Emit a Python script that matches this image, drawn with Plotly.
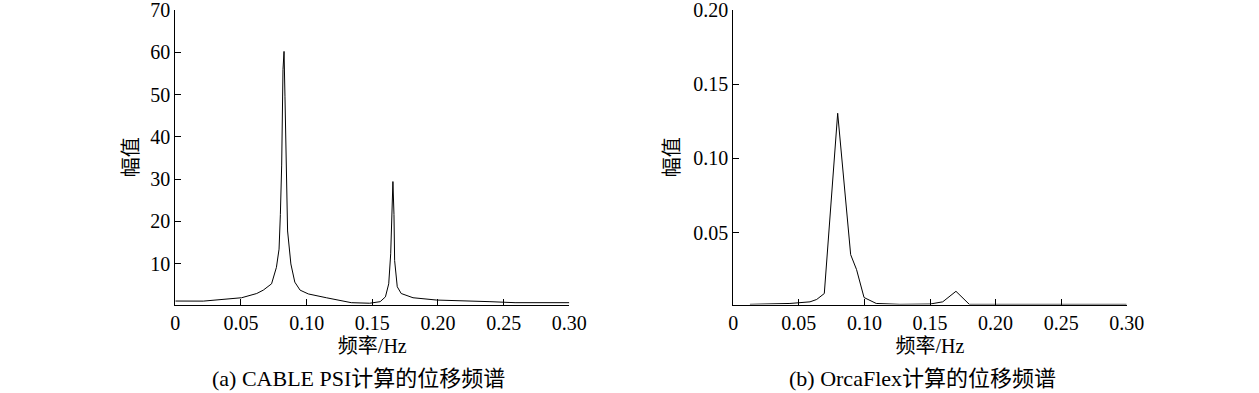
import plotly.graph_objects as go

# (a) CABLE PSI displacement spectrum
freq_a = [0.0, 0.0213, 0.0505, 0.062, 0.067, 0.0733, 0.077, 0.079, 0.080, 0.081, 0.082,
          0.0828, 0.0835, 0.0843, 0.0855, 0.088, 0.091, 0.095, 0.1013, 0.115, 0.134, 0.148,
          0.156, 0.160, 0.1625, 0.164, 0.165, 0.1657, 0.1665, 0.167, 0.169, 0.172, 0.181,
          0.199, 0.2396, 0.2587, 0.30]
amp_a = [1.12, 1.1, 1.9, 2.9, 3.7, 5.2, 9.1, 13.4, 21.6, 33.3, 55.9,
         60.2, 49.6, 33.3, 17.7, 9.9, 5.6, 3.7, 2.8, 1.9, 0.73, 0.6,
         0.97, 2.1, 5.2, 12.3, 23.2, 29.4, 21.6, 10.7, 4.5, 2.9, 1.9,
         1.35, 0.97, 0.73, 0.73]

# (b) OrcaFlex displacement spectrum
freq_b = [0.0127, 0.0432, 0.0585, 0.0636, 0.0694, 0.0796, 0.0895, 0.094, 0.0997, 0.109,
          0.127, 0.15, 0.1597, 0.1698, 0.18, 0.30]
amp_b = [0.0016, 0.0022, 0.0033, 0.0049, 0.0089, 0.1304, 0.0351, 0.025, 0.0062, 0.0022,
         0.0016, 0.0018, 0.0033, 0.0104, 0.0016, 0.0016]

x_ticks = [0, 0.05, 0.10, 0.15, 0.20, 0.25, 0.30]
x_labels = ["0", "0.05", "0.10", "0.15", "0.20", "0.25", "0.30"]
ya_ticks = [10, 20, 30, 40, 50, 60, 70]
yb_ticks = [0.05, 0.10, 0.15, 0.20]
yb_labels = ["0.05", "0.10", "0.15", "0.20"]

x_title = "频率/Hz"
y_title = "幅值"
caption_a = "(a) CABLE PSI计算的位移频谱"
caption_b = "(b) OrcaFlex计算的位移频谱"

FONT = "Liberation Serif, 'Times New Roman', 'Noto Sans CJK SC', serif"
W, H = 1259, 393

fig = go.Figure()
fig.add_trace(go.Scatter(x=freq_a, y=amp_a, mode="lines", line=dict(color="black", width=1),
                         xaxis="x", yaxis="y", showlegend=False))
fig.add_trace(go.Scatter(x=freq_b, y=amp_b, mode="lines", line=dict(color="black", width=1),
                         xaxis="x2", yaxis="y2", showlegend=False))

ydom = [1 - 304.5 / H, 1 - 10 / H]
axis_common = dict(showline=True, linecolor="black", linewidth=1, ticks="inside", ticklen=6,
                   tickcolor="black", tickwidth=1, showgrid=False, zeroline=False,
                   automargin=False, ticklabeloverflow="allow",
                   tickfont=dict(family=FONT, size=20, color="black"))

fig.update_layout(
    template="none",
    width=W, height=H,
    margin=dict(l=0, r=0, t=0, b=0, pad=0),
    paper_bgcolor="white", plot_bgcolor="white",
    font=dict(family=FONT, size=20, color="black"),
    xaxis=dict(domain=[175.3 / W, 569.3 / W], range=[0, 0.30], tickvals=x_ticks, ticktext=x_labels,
               title=dict(text=x_title, standoff=6, font=dict(family=FONT, size=20)),
               anchor="y", **axis_common),
    yaxis=dict(domain=ydom, range=[0.3, 70], tickvals=ya_ticks,
               title=dict(text=y_title, standoff=6, font=dict(family=FONT, size=20)),
               anchor="x", **axis_common),
    xaxis2=dict(domain=[733.3 / W, 1126.7 / W], range=[0, 0.30], tickvals=x_ticks, ticktext=x_labels,
                title=dict(text=x_title, standoff=6, font=dict(family=FONT, size=20)),
                anchor="y2", **axis_common),
    yaxis2=dict(domain=ydom, range=[0.0015, 0.20], tickvals=yb_ticks, ticktext=yb_labels,
                title=dict(text=y_title, standoff=8, font=dict(family=FONT, size=20)),
                anchor="x2", **axis_common),
    annotations=[
        dict(text=caption_a, x=358 / W, y=1 - 378 / H, xref="paper", yref="paper",
             showarrow=False, xanchor="center", yanchor="middle",
             font=dict(family=FONT, size=22, color="black")),
        dict(text=caption_b, x=922 / W, y=1 - 378 / H, xref="paper", yref="paper",
             showarrow=False, xanchor="center", yanchor="middle",
             font=dict(family=FONT, size=22, color="black")),
    ],
)

fig.write_html("out.html", config={"displayModeBar": False},
               post_script="document.body.style.margin='0px';")
